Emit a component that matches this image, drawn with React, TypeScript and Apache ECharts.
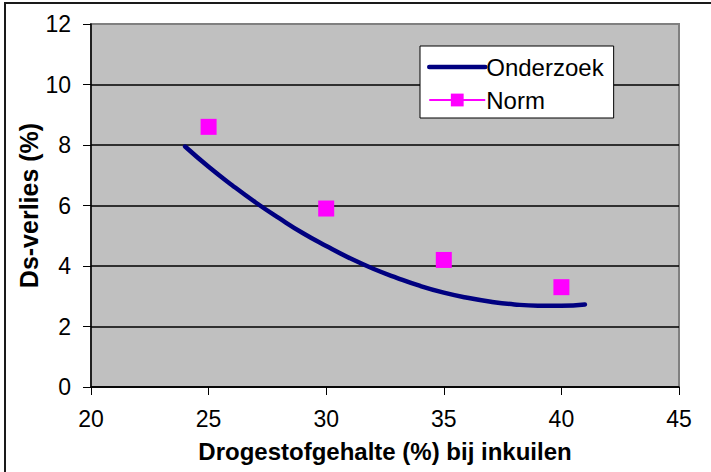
import React, { useEffect, useRef } from "react";
import * as echarts from "echarts";

const xTicks = { min: 20, max: 45, interval: 5 };
const yTicks = { min: 0, max: 12, interval: 2 };

const onderzoekX = [24, 25, 26, 27, 28, 29, 30, 31, 32, 33, 34, 35, 36, 37, 38, 39, 40, 41];
const onderzoekY = [7.95, 7.28, 6.67, 6.1, 5.58, 5.09, 4.66, 4.26, 3.91, 3.61, 3.34, 3.12, 2.95, 2.82, 2.73, 2.69, 2.69, 2.73];

const normX = [25, 30, 35, 40];
const normY = [8.6, 5.9, 4.2, 3.3];

const seriesNames = ["Onderzoek", "Norm"];
const xTitle = "Drogestofgehalte (%) bij inkuilen";
const yTitle = "Ds-verlies (%)";

const FONT = "'Liberation Sans', Arial, sans-serif";

export default function App() {
  const ref = useRef<HTMLDivElement>(null);
  useEffect(() => {
    if (!ref.current) return;
    const chart = echarts.init(ref.current, undefined, { renderer: "svg" });
    chart.setOption({
      animation: false,
      backgroundColor: "#ffffff",
      textStyle: { fontFamily: FONT },
      graphic: [
        {
          type: "rect",
          shape: { x: 5, y: 3, width: 900, height: 700 },
          style: { fill: "none", stroke: "#1a1a1a", lineWidth: 2 },
          silent: true,
          z: 100,
        },
      ],
      grid: {
        left: 91,
        right: 32,
        top: 24,
        bottom: 85,
        show: true,
        backgroundColor: "#C0C0C0",
        borderColor: "#808080",
        borderWidth: 2,
      },
      legend: {
        orient: "vertical",
        left: 420,
        top: 46,
        padding: [9, 10, 6, 7],
        itemGap: 9,
        itemWidth: 56,
        itemHeight: 16,
        backgroundColor: "#ffffff",
        borderColor: "#000000",
        borderWidth: 1,
        borderRadius: 0,
        textStyle: { fontSize: 24, color: "#000000", fontFamily: FONT, padding: [0, 0, 0, -4] },
        data: [
          {
            name: seriesNames[0],
            itemStyle: { opacity: 0 },
            lineStyle: { color: "#000080", width: 4.5, opacity: 1 },
          },
          {
            name: seriesNames[1],
            lineStyle: { color: "#FF00FF", width: 2, opacity: 1 },
          },
        ],
      },
      xAxis: {
        type: "value",
        min: xTicks.min,
        max: xTicks.max,
        interval: xTicks.interval,
        name: xTitle,
        nameLocation: "middle",
        nameGap: 52,
        nameTextStyle: { fontSize: 24, fontWeight: "bold", color: "#000", fontFamily: FONT, verticalAlign: "top" },
        axisLine: { show: true, onZero: false, lineStyle: { color: "#000", width: 1.5 } },
        axisTick: { show: true, inside: false, length: 8, lineStyle: { color: "#000", width: 1 } },
        axisLabel: { fontSize: 23, color: "#000", margin: 20, fontFamily: FONT },
        splitLine: { show: false },
      },
      yAxis: {
        type: "value",
        min: yTicks.min,
        max: yTicks.max,
        interval: yTicks.interval,
        name: yTitle,
        nameLocation: "middle",
        nameGap: 50,
        nameMoveOverlap: false,
        nameRotate: 90,
        nameTextStyle: { fontSize: 25, fontWeight: "bold", color: "#000", fontFamily: FONT },
        axisLine: { show: true, onZero: false, lineStyle: { color: "#000", width: 1.5 } },
        axisTick: { show: true, inside: false, length: 8, lineStyle: { color: "#000", width: 1 } },
        axisLabel: { fontSize: 23, color: "#000", margin: 20, fontFamily: FONT },
        splitLine: {
          show: true,
          lineStyle: {
            color: ["#000000", "#000000", "#000000", "#000000", "#000000", "#000000", "#808080"],
            width: 1.5,
          },
        },
      },
      series: [
        {
          name: seriesNames[0],
          type: "line",
          smooth: true,
          symbol: "none",
          data: onderzoekX.map((x, i) => [x, onderzoekY[i]]),
          lineStyle: { color: "#000080", width: 4.5, cap: "round" },
          itemStyle: { color: "#000080" },
          z: 3,
        },
        {
          name: seriesNames[1],
          type: "line",
          symbol: "rect",
          symbolSize: 16,
          showSymbol: true,
          data: normX.map((x, i) => [x, normY[i]]),
          lineStyle: { opacity: 0, color: "#FF00FF", width: 2 },
          itemStyle: { color: "#FF00FF" },
          z: 4,
        },
      ],
    });
    return () => chart.dispose();
  }, []);
  return (
    <div
      ref={ref}
      style={{ position: "fixed", left: 0, top: 0, width: 711, height: 472 }}
    />
  );
}
